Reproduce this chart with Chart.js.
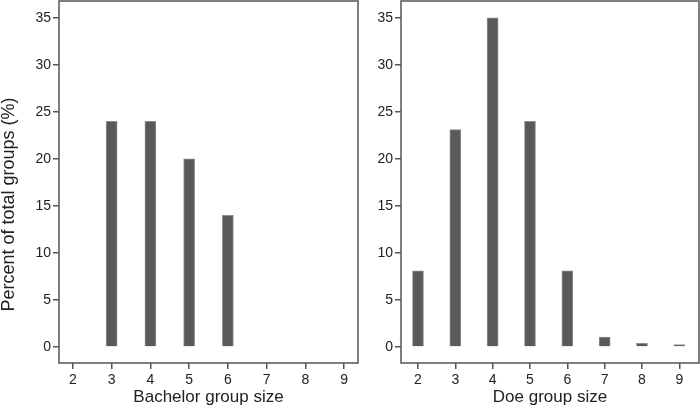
<!DOCTYPE html>
<html>
<head>
<meta charset="utf-8">
<script src="https://cdn.jsdelivr.net/npm/chart.js@4"></script>
<style>
  html, body { margin: 0; padding: 0; background: #fff; }
  #left { position: absolute; left: 0; top: 0; width: 365px; height: 409px; }
  #right { position: absolute; left: 365px; top: 0; width: 335px; height: 409px; }
</style>
</head>
<body>
<div id="left"><canvas id="chartLeft"></canvas></div>
<div id="right"><canvas id="chartRight"></canvas></div>
<script>
  // group sizes and percent of total groups
  var groupSizes = [2, 3, 4, 5, 6, 7, 8, 9];
  var bachelorSizes = [3, 4, 5, 6];
  var bachelorPercent = [24, 24, 20, 14];
  var doeSizes = [2, 3, 4, 5, 6, 7, 8, 9];
  var doePercent = [8.1, 23.1, 35, 24, 8.1, 1.05, 0.4, 0.25];
  var yTicks = [0, 5, 10, 15, 20, 25, 30, 35];
  var yTitle = 'Percent of total groups (%)';

  var font = 'Liberation Sans, Arial, sans-serif';
  var axisColor = '#555555';

  var boxPlugin = {
    id: 'box',
    afterDraw: function (chart) {
      var a = chart.chartArea;
      var ctx = chart.ctx;
      ctx.save();
      ctx.strokeStyle = axisColor;
      ctx.lineWidth = 1.5;
      ctx.strokeRect(a.left, a.top, a.right - a.left, a.bottom - a.top);
      // y title, centred on the whole figure height
      var t = chart.options.plugins.box.title;
      if (t) {
        ctx.translate(9, chart.height / 2);
        ctx.rotate(-Math.PI / 2);
        ctx.fillStyle = '#222';
        ctx.font = '18px ' + font;
        ctx.textAlign = 'center';
        ctx.textBaseline = 'middle';
        ctx.fillText(t, 0, 0);
      }
      ctx.restore();
    }
  };

  function makeChart(id, sizes, values, opts) {
    var points = sizes.map(function (s, i) { return { x: s, y: values[i] }; });
    var ctx = document.getElementById(id).getContext('2d');
    return new Chart(ctx, {
      type: 'bar',
      data: {
        datasets: [{
          data: points,
          backgroundColor: '#595959',
          borderColor: '#8c8c8c',
          borderWidth: 1,
          barThickness: 11
        }]
      },
      options: {
        responsive: true,
        maintainAspectRatio: false,
        animation: false,
        layout: { padding: { top: 1, right: opts.padRight, left: 0, bottom: 0 } },
        plugins: { legend: { display: false }, tooltip: { enabled: false }, box: { title: opts.yTitle } },
        scales: {
          x: {
            type: 'linear',
            offset: false,
            min: opts.xMin,
            max: opts.xMax,
            afterBuildTicks: function (s) { s.ticks = groupSizes.map(function (v) { return { value: v }; }); },
            afterFit: function (s) { s.height = 46; s.paddingLeft = 0; s.paddingRight = 0; },
            grid: { offset: false, drawOnChartArea: false, color: axisColor, tickLength: 6, lineWidth: 1.5 },
            border: { display: false },
            ticks: { color: '#222', font: { family: font, size: 14 }, padding: 3, maxRotation: 0 },
            title: { display: true, text: opts.xTitle, color: '#222', font: { family: font, size: 17 }, padding: { top: 0, bottom: 1 } }
          },
          y: {
            min: -1.7,
            max: 36.78,
            afterBuildTicks: function (s) { s.ticks = yTicks.map(function (v) { return { value: v }; }); },
            afterFit: function (s) { s.width = opts.yWidth; s.paddingTop = 0; s.paddingBottom = 0; },
            grid: { drawOnChartArea: false, color: axisColor, tickLength: 6, lineWidth: 1.5 },
            border: { display: false },
            ticks: { color: '#222', font: { family: font, size: 14 }, padding: 2 }
          }
        }
      },
      plugins: [boxPlugin]
    });
  }

  makeChart('chartLeft', bachelorSizes, bachelorPercent, {
    xMin: 1.64, xMax: 9.36, padRight: 7, yWidth: 59,
    xTitle: 'Bachelor group size', yTitle: yTitle
  });
  makeChart('chartRight', doeSizes, doePercent, {
    xMin: 1.545, xMax: 9.527, padRight: 1, yWidth: 36,
    xTitle: 'Doe group size', yTitle: ''
  });
</script>
</body>
</html>
